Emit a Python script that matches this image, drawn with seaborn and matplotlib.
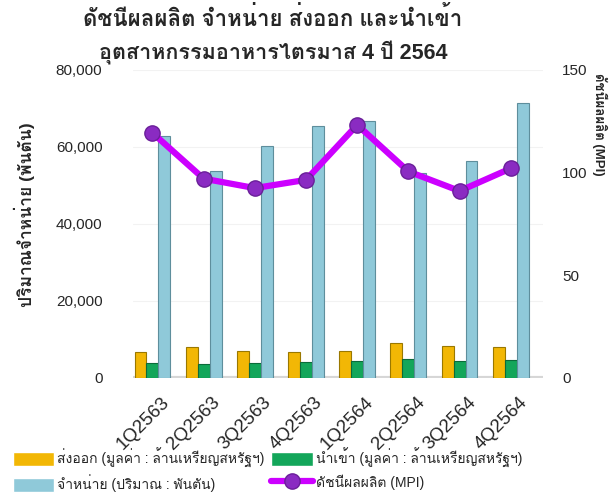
import matplotlib
matplotlib.use('Agg')
import matplotlib.pyplot as plt
import matplotlib.transforms as mtransforms
from matplotlib import font_manager
from matplotlib.ft2font import FT2Font
import pandas as pd
import seaborn as sns
import numpy as np

# Data
quarters = ['1Q2563', '2Q2563', '3Q2563', '4Q2563', '1Q2564', '2Q2564', '3Q2564', '4Q2564']
export_val = [6750, 7950, 7000, 6650, 6850, 9000, 8300, 7950]
import_val = [3950, 3650, 3800, 4150, 4350, 4900, 4350, 4700]
sales_vol = [62900, 53700, 60200, 65400, 66600, 53300, 56200, 71500]
mpi = [119.3, 97.0, 92.4, 96.4, 123.2, 100.5, 91.0, 102.0]

lbl_export = 'ส่งออก (มูลค่า : ล้านเหรียญสหรัฐฯ)'
lbl_import = 'นำเข้า (มูลค่า : ล้านเหรียญสหรัฐฯ)'
lbl_sales = 'จำหน่าย (ปริมาณ : พันตัน)'
lbl_mpi = 'ดัชนีผลผลิต (MPI)'


def find_thai_font():
    # pick any installed font that has Thai glyphs
    for f in font_manager.fontManager.ttflist:
        try:
            if 0x0E01 in FT2Font(f.fname).get_charmap():
                return f.name
        except Exception:
            pass
    return 'DejaVu Sans'


sns.set_style('white')
thai_font = find_thai_font()
plt.rcParams['font.family'] = ['Liberation Sans', thai_font, 'DejaVu Sans']

df = pd.DataFrame({
    'quarter': quarters * 3,
    'value': export_val + import_val + sales_vol,
    'series': [lbl_export] * 8 + [lbl_import] * 8 + [lbl_sales] * 8,
})

colors = {lbl_export: '#F2B705', lbl_import: '#13A65A', lbl_sales: '#8FC9D9'}
edges = ['#9A7800', '#0B6B3A', '#5E8E9C']

fig = plt.figure(figsize=(6.13, 4.99), dpi=100)
ax = fig.add_axes([0.217, 0.243, 0.668, 0.617])

sns.barplot(data=df, x='quarter', y='value', hue='series', palette=colors,
            width=0.7, ax=ax, saturation=1, legend=True)
for cont, ec in zip(ax.containers, edges):
    for bar in cont:
        bar.set_edgecolor(ec)
        bar.set_linewidth(0.8)

ax.set_ylim(0, 80000)
ax.set_yticks(np.arange(0, 80001, 20000))
ax.set_yticklabels([f'{v:,}' for v in range(0, 80001, 20000)])
ax.set_xlim(-0.38, 7.62)
ax.set_xlabel('')
ax.set_ylabel('')
ax.grid(axis='y', color='#f2f2f2', lw=0.8)
ax.set_axisbelow(True)
ax.axhline(0, color='#d6d6d6', lw=3, zorder=0)
for s in ax.spines.values():
    s.set_visible(False)
ax.tick_params(axis='y', labelsize=11, length=0, pad=22)
ax.tick_params(axis='x', labelsize=13.5, length=0, pad=16)

offset = mtransforms.ScaledTranslation(10 / 72, 0, fig.dpi_scale_trans)
for t in ax.get_xticklabels():
    t.set_rotation(45)
    t.set_ha('right')
    t.set_va('center')
    t.set_rotation_mode('anchor')
    t.set_transform(t.get_transform() + offset)

ax2 = ax.twinx()
sns.lineplot(x=np.arange(len(quarters)), y=mpi, ax=ax2, color='#CC00FF', lw=4.5,
             marker='o', markersize=11, markerfacecolor='#8A2BC2',
             markeredgecolor='#6A1F99', markeredgewidth=1, label=lbl_mpi)
ax2.set_ylim(0, 150)
ax2.set_yticks([0, 50, 100, 150])
for s in ax2.spines.values():
    s.set_visible(False)
ax2.tick_params(axis='y', labelsize=11, length=0, pad=14)
ax2.set_ylabel('')

h1, l1 = ax.get_legend_handles_labels()
h2, l2 = ax2.get_legend_handles_labels()
ax.get_legend().remove()
ax2.get_legend().remove()
handles = [h1[0], h1[2], h1[1], h2[0]]
labels = [l1[0], l1[2], l1[1], l2[0]]
fig.legend(handles, labels, ncol=2, loc='lower left', bbox_to_anchor=(0.0, -0.012),
           frameon=False, fontsize=10, handlelength=3.0, handleheight=1.2,
           columnspacing=0.5, handletextpad=0.2, labelspacing=0.5)

fig.text(0.445, 0.962, 'ดัชนีผลผลิต จำหน่าย ส่งออก และนำเข้า', ha='center', va='center',
         fontsize=16, fontweight='bold')
fig.text(0.445, 0.893, 'อุตสาหกรรมอาหารไตรมาส 4 ปี 2564', ha='center', va='center',
         fontsize=15.5, fontweight='bold')
fig.text(0.04, 0.569, 'ปริมาณจำหน่าย (พันตัน)', rotation=90, ha='center', va='center',
         fontsize=12.5, fontweight='bold')
fig.text(0.978, 0.751, lbl_mpi, rotation=270, ha='center', va='center',
         fontsize=9.5, fontweight='bold')

fig.savefig('out.png', dpi=100)
